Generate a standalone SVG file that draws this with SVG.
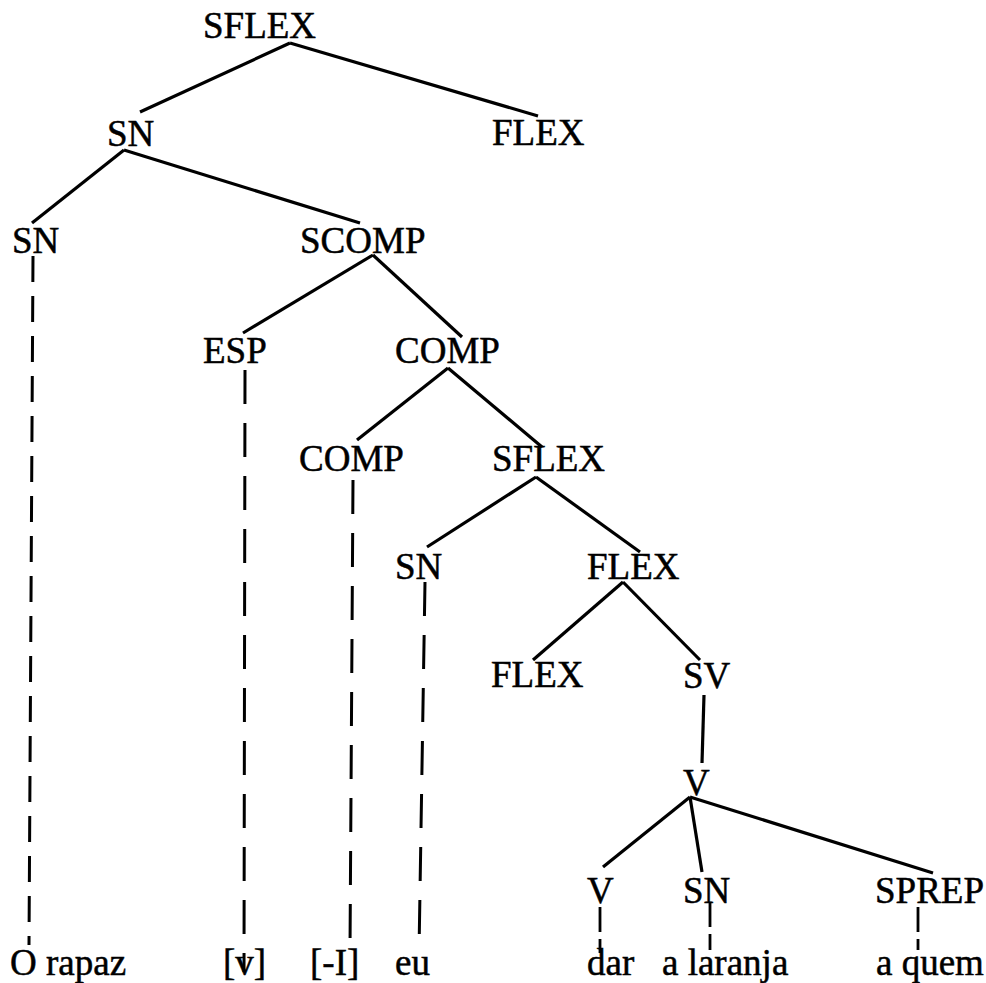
<svg xmlns="http://www.w3.org/2000/svg" width="986" height="983" viewBox="0 0 986 983">
<style>
text{font-family:"Liberation Serif","Times New Roman",serif;font-size:37px;fill:#000;stroke:#000;stroke-width:0.5}
.e{stroke:#000;stroke-width:3.2;fill:none;stroke-linecap:butt}
.d{stroke:#000;stroke-width:3;fill:none;stroke-dasharray:34 19}
.d1{stroke:#000;stroke-width:3;fill:none;stroke-dasharray:26 14}
.d2{stroke:#000;stroke-width:2.8;fill:none;stroke-dasharray:25 7}
</style>
<rect width="986" height="983" fill="#fff"/>
<g id="connectors">
<line class="e" x1="290" y1="43" x2="140" y2="112"/>
<line class="e" x1="290" y1="43" x2="538" y2="116"/>
<line class="e" x1="124" y1="150" x2="32" y2="223"/>
<line class="e" x1="124" y1="150" x2="360" y2="223"/>
<line class="e" x1="373" y1="255" x2="243" y2="333"/>
<line class="e" x1="373" y1="255" x2="462" y2="337"/>
<line class="e" x1="448" y1="368" x2="357" y2="440"/>
<line class="e" x1="448" y1="368" x2="542" y2="447"/>
<line class="e" x1="536" y1="477" x2="427" y2="547"/>
<line class="e" x1="536" y1="477" x2="640" y2="552"/>
<line class="e" x1="623" y1="582" x2="533" y2="660"/>
<line class="e" x1="623" y1="582" x2="700" y2="660"/>
<line class="e" x1="704" y1="695" x2="702" y2="763"/>
<line class="e" x1="690" y1="797" x2="603" y2="867"/>
<line class="e" x1="690" y1="797" x2="702" y2="872"/>
<line class="e" x1="690" y1="797" x2="933" y2="873"/>
<line class="d1" x1="33" y1="256" x2="29" y2="945"/>
<line class="d" x1="245" y1="370" x2="244" y2="972"/>
<line class="d" x1="353" y1="480" x2="350" y2="950"/>
<line class="d" x1="425" y1="582" x2="419" y2="953"/>
<line class="d2" x1="600" y1="907" x2="600" y2="953"/>
<line class="d2" x1="710" y1="902" x2="710" y2="950"/>
<line class="d2" x1="918" y1="907" x2="918" y2="950"/>
</g>
<g id="n-sflex1"><text x="203" y="38">SFLEX</text></g>
<g id="n-sn1"><text x="107" y="146">SN</text></g>
<g id="n-flex1"><text x="492" y="145">FLEX</text></g>
<g id="n-sn2"><text x="12" y="253">SN</text></g>
<g id="n-scomp"><text x="300" y="253">SCOMP</text></g>
<g id="n-esp"><text x="203" y="363">ESP</text></g>
<g id="n-comp1"><text x="395" y="363">COMP</text></g>
<g id="n-comp2"><text x="299" y="471">COMP</text></g>
<g id="n-sflex2"><text x="492" y="471">SFLEX</text></g>
<g id="n-sn3"><text x="395" y="579">SN</text></g>
<g id="n-flex2"><text x="587" y="579">FLEX</text></g>
<g id="n-flex3"><text x="491" y="687">FLEX</text></g>
<g id="n-sv"><text x="683" y="688">SV</text></g>
<g id="n-v1"><text x="683" y="795">V</text></g>
<g id="n-v2"><text x="587" y="903">V</text></g>
<g id="n-sn4"><text x="683" y="903">SN</text></g>
<g id="n-sprep"><text x="875" y="903">SPREP</text></g>
<g id="w-orapaz"><text x="10" y="975">O rapaz</text></g>
<g id="w-v"><text x="223" y="975">[v]</text></g>
<g id="w-i"><text x="310" y="975">[-I]</text></g>
<g id="w-eu"><text x="395" y="975">eu</text></g>
<g id="w-dar"><text x="587" y="975">dar</text></g>
<g id="w-laranja"><text x="662" y="975">a laranja</text></g>
<g id="w-aquem"><text x="876" y="975">a quem</text></g>
</svg>
